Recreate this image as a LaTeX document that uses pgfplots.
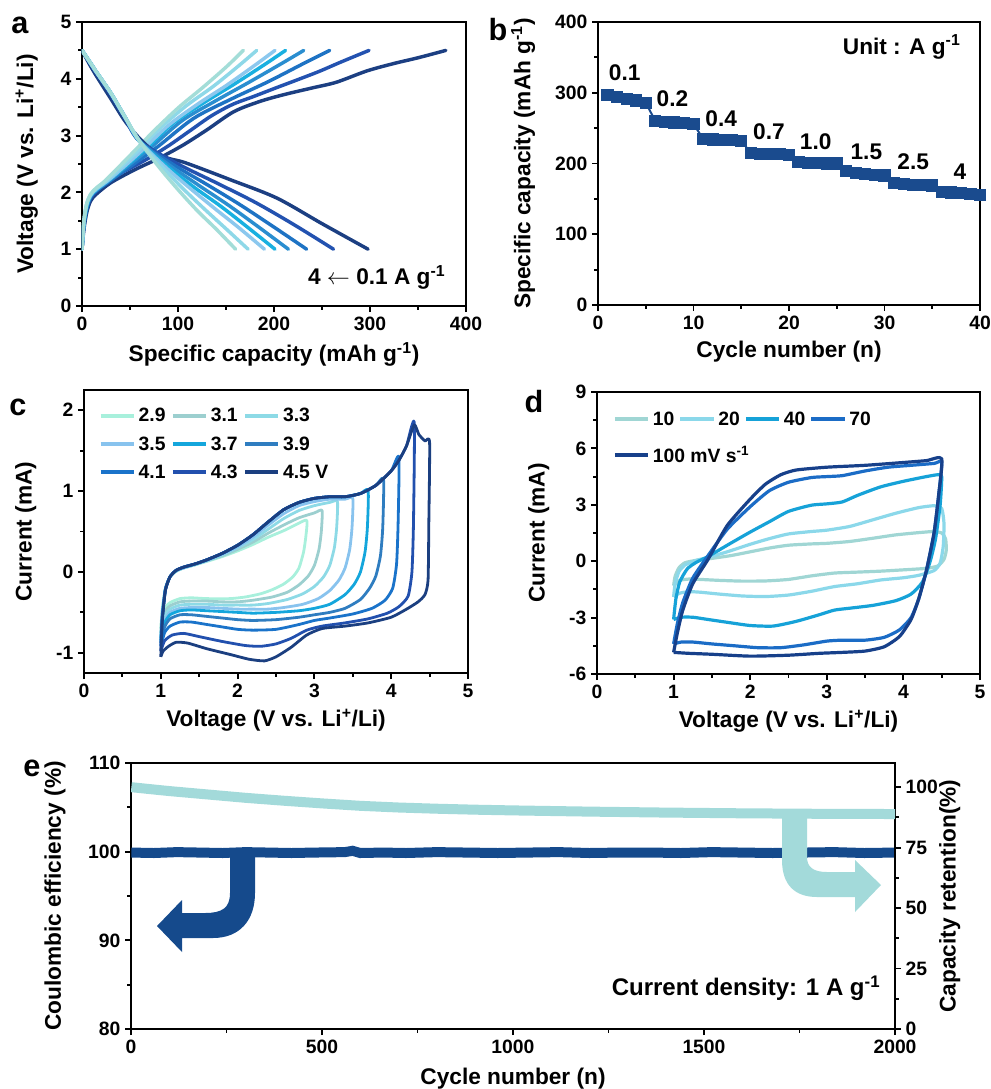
\documentclass[border=0pt]{standalone}
\usepackage{fontspec}
\setmainfont{Liberation Sans}
\usepackage{pgfplots}
\pgfplotsset{compat=1.18}
% panel a
\definecolor{aA}{HTML}{A3DDD8}
\definecolor{aB}{HTML}{8ED8E8}
\definecolor{aC}{HTML}{8CC8EE}
\definecolor{aD}{HTML}{19B0E0}
\definecolor{aE}{HTML}{2A8ED0}
\definecolor{aF}{HTML}{1E73C4}
\definecolor{aG}{HTML}{2352B0}
\definecolor{aH}{HTML}{1C3F82}
% panel c
\definecolor{cA}{HTML}{A8F0DC}
\definecolor{cB}{HTML}{9CCFCF}
\definecolor{cC}{HTML}{8DDAE6}
\definecolor{cD}{HTML}{88C3EE}
\definecolor{cE}{HTML}{14A6DC}
\definecolor{cF}{HTML}{2F7DC0}
\definecolor{cG}{HTML}{1A73CA}
\definecolor{cH}{HTML}{2250AE}
\definecolor{cI}{HTML}{1B3F80}
% panel d
\definecolor{dA}{HTML}{A0D6D4}
\definecolor{dB}{HTML}{8BD8EA}
\definecolor{dC}{HTML}{16A2D8}
\definecolor{dD}{HTML}{1B6CC6}
\definecolor{dE}{HTML}{17408A}
% b, e
\definecolor{bcol}{HTML}{1A4B8E}
\definecolor{ecol}{HTML}{154A8C}
\definecolor{tcol}{HTML}{A3DADA}

\pgfplotsset{
  common/.style={
    scale only axis,
    anchor=south west,
    axis line style={line width=1.8pt},
    every tick/.style={line width=1.4pt, black},
    tick align=outside,
    major tick length=4.5pt,
    minor tick length=2.8pt,
    xtick pos=left, ytick pos=left,
    tick label style={font=\bfseries\fontsize{14.5}{16}\selectfont},
    label style={font=\bfseries\fontsize{17}{18}\selectfont},
    xlabel style={yshift=-2pt},
    ylabel style={yshift=6pt},
    /pgf/number format/assume math mode=true,
    /pgf/number format/1000 sep={},
    legend style={draw=none, fill=none, font=\bfseries\fontsize{14.5}{15}\selectfont},
    legend cell align=left,
  },
  lgline/.style={legend image code/.code={\draw[##1,line width=3pt] (0pt,0pt) -- (25pt,0pt);}},
}

\begin{document}
\begin{tikzpicture}
\path[use as bounding box] (0,0) rectangle (743.25pt,-816.75pt);

%% ---------------- panel a ----------------
\begin{axis}[common, at={(61.5pt,-229.5pt)}, width=288pt, height=213pt,
  xmin=0, xmax=400, ymin=0, ymax=5,
  xtick={0,100,...,400}, ytick={0,1,...,5},
  minor x tick num=1, minor y tick num=1,
  xlabel={Specific capacity (mAh g\textsuperscript{-1})},
  ylabel={Voltage (V vs. Li\textsuperscript{+}/Li)},
  ylabel style={yshift=4pt},
  every axis plot/.append style={line width=2.6pt, smooth, tension=0.5, line cap=round},
]
% charge curves, darkest first
\addplot[aH] coordinates {(0,1.0)(2,1.35)(5,1.65)(9,1.85)(15,1.97)(30,2.17)(55,2.4)(80,2.6)(105,2.83)(130,3.1)(158,3.42)(185,3.6)(210,3.72)(240,3.84)(265,3.94)(297,4.14)(325,4.27)(350,4.37)(379,4.5)};
\addplot[aG] coordinates {(0,1.0)(2,1.4)(5,1.7)(9,1.9)(15,2.02)(27,2.22)(45,2.38)(67,2.58)(90,2.82)(112,3.08)(135,3.35)(157,3.55)(179,3.69)(202,3.84)(224,3.98)(247,4.13)(269,4.29)(299,4.5)};
\addplot[aF] coordinates {(0,1.0)(2,1.45)(5,1.75)(9,1.93)(15,2.03)(39,2.32)(77,2.78)(116,3.30)(155,3.64)(194,3.95)(232,4.28)(258,4.5)};
\addplot[aE] coordinates {(0,1.0)(2,1.45)(5,1.75)(9,1.93)(15,2.04)(35,2.30)(69,2.75)(104,3.26)(139,3.61)(173,3.93)(208,4.27)(231,4.5)};
\addplot[aD] coordinates {(0,1.0)(2,1.45)(5,1.75)(9,1.94)(15,2.05)(32,2.27)(64,2.73)(95,3.22)(127,3.58)(159,3.91)(191,4.26)(212,4.5)};
\addplot[aC] coordinates {(0,1.0)(2,1.5)(5,1.8)(9,1.95)(15,2.06)(30,2.25)(60,2.70)(90,3.18)(121,3.56)(151,3.89)(181,4.25)(201,4.5)};
\addplot[aB] coordinates {(0,1.0)(2,1.5)(5,1.8)(9,1.96)(15,2.07)(27,2.23)(55,2.68)(82,3.14)(109,3.53)(137,3.87)(164,4.24)(182,4.5)};
\addplot[aA] coordinates {(0,1.0)(2,1.5)(5,1.8)(9,1.97)(15,2.08)(25,2.22)(50,2.65)(76,3.1)(101,3.5)(126,3.85)(151,4.22)(168,4.5)};
% discharge curves
\addplot[aH] coordinates {(0,4.5)(8,4.25)(15,4.05)(30,3.65)(45,3.25)(60,2.95)(75,2.72)(90,2.6)(108,2.52)(155,2.22)(203,1.9)(250,1.45)(298,1.0)};
\addplot[aG] coordinates {(0,4.5)(8,4.28)(15,4.1)(30,3.72)(45,3.3)(60,2.9)(100,2.5)(141,2.16)(181,1.82)(222,1.42)(262,1.0)};
\addplot[aF] coordinates {(0,4.5)(8,4.3)(15,4.12)(30,3.75)(45,3.32)(60,2.9)(95,2.49)(130,2.14)(164,1.79)(199,1.40)(234,1.0)};
\addplot[aE] coordinates {(0,4.5)(8,4.3)(15,4.12)(30,3.75)(45,3.32)(60,2.9)(91,2.48)(122,2.12)(153,1.77)(184,1.39)(215,1.0)};
\addplot[aD] coordinates {(0,4.5)(8,4.3)(15,4.12)(30,3.75)(45,3.32)(60,2.9)(88,2.47)(116,2.10)(145,1.75)(173,1.38)(201,1.0)};
\addplot[aC] coordinates {(0,4.5)(8,4.3)(15,4.12)(30,3.75)(45,3.32)(60,2.9)(86,2.46)(112,2.08)(138,1.72)(164,1.37)(190,1.0)};
\addplot[aB] coordinates {(0,4.5)(8,4.3)(15,4.12)(30,3.75)(45,3.32)(60,2.9)(83,2.46)(105,2.07)(128,1.70)(150,1.36)(173,1.0)};
\addplot[aA] coordinates {(0,4.5)(8,4.3)(15,4.12)(30,3.75)(45,3.32)(60,2.9)(80,2.45)(100,2.05)(120,1.68)(140,1.35)(160,1.0)};
\node[font=\bfseries\fontsize{17}{18}\selectfont] at (axis cs:307,0.5) {4 $\leftarrow$ 0.1 A g\textsuperscript{-1}};
\end{axis}

%% ---------------- panel b ----------------
\begin{axis}[common, at={(448.5pt,-228.75pt)}, width=286.5pt, height=212.25pt,
  xmin=0, xmax=40, ymin=0, ymax=400,
  xtick={0,10,...,40}, ytick={0,100,...,400},
  minor x tick num=1, minor y tick num=1,
  xlabel={Cycle number (n)},
  ylabel={Specific capacity (mAh g\textsuperscript{-1})},
  ylabel style={yshift=2pt},
]
\addplot[bcol, line width=1.5pt, mark=square*, mark size=3.8pt] coordinates {
(1,297)(2,294)(3,291)(4,289)(5,286)
(6,260)(7,259)(8,258)(9,257)(10,256)
(11,235)(12,234)(13,233)(14,233)(15,232)
(16,215)(17,214)(18,213)(19,213)(20,212)
(21,202)(22,201)(23,201)(24,200)(25,200)
(26,190)(27,187)(28,185)(29,184)(30,183)
(31,173)(32,171)(33,170)(34,170)(35,169)
(36,160)(37,159)(38,158)(39,157)(40,156)};
\begin{scope}[font=\bfseries\fontsize{17}{18}\selectfont]
\node at (axis cs:2.8,329) {0.1};
\node at (axis cs:7.8,292) {0.2};
\node at (axis cs:12.9,263) {0.4};
\node at (axis cs:17.9,245) {0.7};
\node at (axis cs:22.8,231) {1.0};
\node at (axis cs:28.1,216) {1.5};
\node at (axis cs:33,202) {2.5};
\node at (axis cs:37.9,188) {4};
\node at (axis cs:31.8,365) {Unit : A g\textsuperscript{-1}};
\end{scope}
\end{axis}

%% ---------------- panel c ----------------
\begin{axis}[common, lgline, at={(63pt,-504.75pt)}, width=288pt, height=212.25pt,
  xmin=0, xmax=5, ymin=-1.25, ymax=2.25,
  xtick={0,1,...,5}, ytick={-1,0,1,2},
  minor x tick num=1, minor y tick num=1,
  xlabel={Voltage (V vs. Li\textsuperscript{+}/Li)},
  ylabel={Current (mA)},
  ylabel style={yshift=2pt},
  every axis plot/.append style={line width=2.1pt, smooth, tension=0.35, line join=round},
  legend columns=3,
  legend style={at={(0.027,0.955)}, anchor=north west, row sep=5.5pt,
    /tikz/every even column/.append style={column sep=2pt}},
]
\addplot[cA] coordinates {(1.0,-0.7)(1.02,-0.45)(1.06,-0.2)(1.12,-0.06)(1.2,0.01)(1.3,0.05)(1.45,0.09)(1.6,0.13)(1.8,0.19)(2.0,0.26)(2.2,0.34)(2.4,0.43)(2.6,0.51)(2.75,0.58)(2.9,0.64)
(2.89,0.45)(2.86,0.25)(2.8,0.05)(2.72,-0.06)(2.6,-0.15)(2.45,-0.22)(2.3,-0.27)(2.1,-0.31)(1.9,-0.33)(1.6,-0.33)(1.4,-0.32)(1.25,-0.33)(1.12,-0.38)(1.05,-0.46)(1.0,-0.7)};
\addlegendentry{2.9}
\addplot[cB] coordinates {(1.0,-0.75)(1.02,-0.48)(1.06,-0.21)(1.12,-0.06)(1.2,0.01)(1.3,0.05)(1.45,0.09)(1.6,0.14)(1.8,0.2)(2.0,0.28)(2.2,0.37)(2.4,0.48)(2.6,0.58)(2.8,0.67)(3.0,0.73)(3.1,0.76)
(3.09,0.5)(3.06,0.28)(3.0,0.08)(2.92,-0.05)(2.8,-0.16)(2.65,-0.25)(2.45,-0.31)(2.2,-0.35)(2.0,-0.37)(1.8,-0.37)(1.6,-0.36)(1.4,-0.36)(1.25,-0.37)(1.12,-0.42)(1.05,-0.5)(1.0,-0.75)};
\addlegendentry{3.1}
\addplot[cC] coordinates {(1.0,-0.8)(1.02,-0.5)(1.06,-0.21)(1.12,-0.06)(1.2,0.01)(1.3,0.05)(1.45,0.09)(1.6,0.14)(1.8,0.21)(2.0,0.3)(2.2,0.4)(2.4,0.53)(2.6,0.66)(2.8,0.76)(3.0,0.82)(3.2,0.86)(3.3,0.87)
(3.29,0.55)(3.26,0.3)(3.2,0.08)(3.12,-0.06)(3.0,-0.18)(2.85,-0.27)(2.65,-0.34)(2.4,-0.39)(2.2,-0.41)(2.0,-0.41)(1.8,-0.41)(1.6,-0.4)(1.4,-0.4)(1.25,-0.41)(1.12,-0.46)(1.05,-0.55)(1.0,-0.8)};
\addlegendentry{3.3}
\addplot[cD] coordinates {(1.0,-0.82)(1.02,-0.52)(1.06,-0.21)(1.12,-0.06)(1.2,0.02)(1.3,0.05)(1.45,0.1)(1.6,0.14)(1.8,0.22)(2.0,0.31)(2.2,0.43)(2.4,0.58)(2.6,0.72)(2.8,0.82)(3.0,0.87)(3.2,0.9)(3.4,0.9)(3.5,0.91)
(3.49,0.55)(3.46,0.28)(3.4,0.05)(3.32,-0.1)(3.2,-0.23)(3.05,-0.33)(2.85,-0.4)(2.6,-0.44)(2.4,-0.46)(2.2,-0.46)(2.0,-0.46)(1.8,-0.45)(1.6,-0.44)(1.4,-0.44)(1.25,-0.45)(1.12,-0.5)(1.05,-0.6)(1.0,-0.82)};
\addlegendentry{3.5}
\addplot[cE] coordinates {(1.0,-0.85)(1.02,-0.55)(1.06,-0.22)(1.12,-0.06)(1.2,0.02)(1.3,0.06)(1.45,0.1)(1.6,0.15)(1.8,0.23)(2.0,0.33)(2.2,0.46)(2.4,0.62)(2.6,0.77)(2.8,0.86)(3.0,0.91)(3.2,0.93)(3.4,0.93)(3.6,0.97)(3.7,1.01)
(3.69,0.55)(3.66,0.25)(3.6,0.0)(3.52,-0.15)(3.4,-0.28)(3.2,-0.4)(3.0,-0.45)(2.8,-0.48)(2.5,-0.5)(2.2,-0.51)(2.0,-0.5)(1.8,-0.49)(1.6,-0.48)(1.4,-0.47)(1.25,-0.48)(1.12,-0.53)(1.05,-0.63)(1.0,-0.85)};
\addlegendentry{3.7}
\addplot[cF] coordinates {(1.0,-0.88)(1.02,-0.55)(1.06,-0.22)(1.12,-0.06)(1.2,0.02)(1.3,0.06)(1.45,0.1)(1.6,0.15)(1.8,0.23)(2.0,0.33)(2.2,0.46)(2.4,0.62)(2.6,0.77)(2.8,0.86)(3.0,0.91)(3.2,0.93)(3.4,0.93)(3.6,0.97)(3.8,1.07)(3.9,1.15)
(3.89,0.55)(3.86,0.2)(3.8,-0.05)(3.72,-0.2)(3.6,-0.34)(3.4,-0.45)(3.2,-0.5)(3.0,-0.53)(2.8,-0.56)(2.5,-0.59)(2.2,-0.6)(2.0,-0.59)(1.8,-0.57)(1.6,-0.55)(1.4,-0.53)(1.25,-0.53)(1.12,-0.58)(1.05,-0.68)(1.0,-0.88)};
\addlegendentry{3.9}
\addplot[cG] coordinates {(1.0,-0.92)(1.02,-0.56)(1.06,-0.22)(1.12,-0.06)(1.2,0.02)(1.3,0.06)(1.45,0.1)(1.6,0.15)(1.8,0.23)(2.0,0.33)(2.2,0.46)(2.4,0.62)(2.6,0.77)(2.8,0.86)(3.0,0.91)(3.2,0.93)(3.4,0.93)(3.6,0.97)(3.8,1.07)(4.0,1.25)(4.1,1.42)
(4.09,0.6)(4.07,0.1)(4.02,-0.2)(3.92,-0.35)(3.75,-0.45)(3.5,-0.52)(3.2,-0.57)(3.0,-0.6)(2.8,-0.65)(2.5,-0.71)(2.2,-0.72)(2.0,-0.71)(1.8,-0.68)(1.6,-0.65)(1.4,-0.62)(1.25,-0.62)(1.12,-0.67)(1.05,-0.75)(1.0,-0.92)};
\addlegendentry{4.1}
\addplot[cH] coordinates {(1.0,-0.98)(1.02,-0.57)(1.06,-0.22)(1.12,-0.06)(1.2,0.02)(1.3,0.06)(1.45,0.1)(1.6,0.15)(1.8,0.23)(2.0,0.33)(2.2,0.46)(2.4,0.62)(2.6,0.77)(2.8,0.86)(3.0,0.91)(3.2,0.93)(3.4,0.93)(3.6,0.97)(3.8,1.07)(4.0,1.25)(4.1,1.38)(4.2,1.56)(4.3,1.85)
(4.29,0.6)(4.27,0.0)(4.22,-0.3)(4.1,-0.43)(3.95,-0.51)(3.7,-0.58)(3.4,-0.63)(3.1,-0.67)(2.9,-0.72)(2.7,-0.82)(2.5,-0.89)(2.3,-0.92)(2.1,-0.91)(1.8,-0.86)(1.5,-0.8)(1.3,-0.76)(1.15,-0.78)(1.05,-0.85)(1.0,-0.98)};
\addlegendentry{4.3}
\addplot[cI] coordinates {(1.0,-1.05)(1.02,-0.6)(1.06,-0.23)(1.12,-0.06)(1.2,0.02)(1.3,0.06)(1.45,0.1)(1.6,0.15)(1.8,0.23)(2.0,0.33)(2.2,0.46)(2.4,0.62)(2.6,0.77)(2.8,0.86)(3.0,0.91)(3.2,0.93)(3.4,0.93)(3.6,0.97)(3.8,1.07)(4.0,1.25)(4.1,1.38)(4.2,1.56)(4.3,1.82)(4.36,1.7)(4.44,1.62)(4.5,1.6)
(4.49,0.6)(4.48,-0.1)(4.44,-0.28)(4.35,-0.37)(4.2,-0.46)(4.0,-0.56)(3.7,-0.63)(3.4,-0.67)(3.1,-0.7)(2.9,-0.78)(2.7,-0.93)(2.5,-1.05)(2.35,-1.1)(2.15,-1.08)(1.9,-1.02)(1.6,-0.95)(1.35,-0.88)(1.2,-0.87)(1.1,-0.92)(1.03,-0.98)(1.0,-1.05)};
\addlegendentry{4.5 V}
\end{axis}

%% ---------------- panel d ----------------
\begin{axis}[common, lgline, at={(447.75pt,-505.5pt)}, width=287.25pt, height=211.5pt,
  xmin=0, xmax=5, ymin=-6, ymax=9,
  xtick={0,1,...,5}, ytick={-6,-3,...,9},
  minor x tick num=1, minor y tick num=1,
  xlabel={Voltage (V vs. Li\textsuperscript{+}/Li)},
  ylabel={Current (mA)},
  ylabel style={yshift=2pt},
  every axis plot/.append style={line width=2.4pt, smooth, tension=0.35, line join=round},
  legend columns=4,
  legend style={at={(0.03,0.95)}, anchor=north west, row sep=10pt,
    /tikz/every even column/.append style={column sep=1pt}},
]
\addplot[dA] coordinates {(1.0,-1.3)(1.02,-0.8)(1.07,-0.35)(1.15,-0.08)(1.3,0.05)(1.5,0.15)(1.75,0.3)(2.0,0.5)(2.25,0.7)(2.5,0.85)(2.8,0.92)(3.0,0.95)(3.3,1.05)(3.6,1.22)(3.9,1.4)(4.2,1.52)(4.4,1.58)(4.5,1.5)(4.55,1.2)(4.56,0.6)(4.53,0.1)(4.45,-0.25)
(4.3,-0.38)(4.0,-0.46)(3.7,-0.53)(3.4,-0.58)(3.1,-0.63)(2.8,-0.78)(2.5,-0.97)(2.2,-1.05)(1.9,-1.06)(1.6,-1.02)(1.35,-0.97)(1.2,-0.95)(1.08,-1.02)(1.0,-1.3)};
\addlegendentry{10}
\addplot[dB] coordinates {(1.0,-1.9)(1.02,-1.2)(1.07,-0.55)(1.15,-0.2)(1.3,0.05)(1.45,0.2)(1.7,0.5)(2.0,0.9)(2.25,1.2)(2.5,1.45)(2.8,1.58)(3.0,1.65)(3.3,1.85)(3.6,2.2)(3.9,2.55)(4.2,2.85)(4.4,2.95)(4.5,2.8)(4.53,2.0)(4.52,0.8)(4.48,-0.1)(4.4,-0.5)
(4.2,-0.75)(4.0,-0.88)(3.7,-1.0)(3.4,-1.2)(3.1,-1.35)(2.8,-1.6)(2.5,-1.8)(2.2,-1.88)(1.9,-1.85)(1.6,-1.75)(1.35,-1.65)(1.2,-1.62)(1.08,-1.7)(1.0,-1.9)};
\addlegendentry{20}
\addplot[dC] coordinates {(1.0,-3.1)(1.03,-2.0)(1.08,-1.1)(1.18,-0.4)(1.3,-0.05)(1.45,0.25)(1.7,0.85)(2.0,1.55)(2.25,2.1)(2.5,2.65)(2.8,2.98)(3.0,3.05)(3.2,3.15)(3.4,3.5)(3.7,3.95)(4.0,4.25)(4.3,4.5)(4.45,4.6)(4.5,4.5)(4.48,3.0)(4.42,1.2)(4.35,0.0)(4.25,-1.1)
(4.1,-1.75)(3.9,-2.1)(3.6,-2.35)(3.3,-2.5)(3.1,-2.6)(2.9,-2.85)(2.6,-3.2)(2.3,-3.45)(2.0,-3.42)(1.7,-3.25)(1.45,-3.1)(1.25,-2.98)(1.1,-2.98)(1.0,-3.1)};
\addlegendentry{40}
\addplot[dD] coordinates {(1.0,-4.4)(1.05,-3.3)(1.12,-2.2)(1.25,-0.9)(1.45,0.3)(1.7,1.7)(2.0,2.9)(2.25,3.75)(2.5,4.2)(2.8,4.45)(3.0,4.5)(3.2,4.55)(3.5,4.8)(3.8,5.0)(4.1,5.1)(4.4,5.2)(4.5,5.25)(4.46,3.5)(4.4,1.5)(4.3,-0.5)(4.2,-2.0)(4.1,-3.0)
(3.95,-3.65)(3.75,-4.05)(3.5,-4.2)(3.2,-4.2)(3.0,-4.25)(2.7,-4.45)(2.4,-4.6)(2.1,-4.6)(1.8,-4.5)(1.5,-4.4)(1.25,-4.3)(1.1,-4.3)(1.0,-4.4)};
\addlegendentry{70}
\addplot[dE] coordinates {(1.0,-4.85)(1.05,-3.8)(1.12,-2.6)(1.25,-1.2)(1.45,0.1)(1.7,1.9)(2.0,3.3)(2.2,4.1)(2.4,4.6)(2.6,4.85)(3.0,5.0)(3.5,5.1)(4.0,5.25)(4.3,5.35)(4.5,5.45)(4.46,3.5)(4.4,1.5)(4.3,-0.5)(4.2,-2.0)(4.1,-3.1)
(3.95,-4.0)(3.75,-4.55)(3.5,-4.78)(3.2,-4.85)(2.9,-4.9)(2.5,-5.0)(2.0,-5.05)(1.5,-4.95)(1.2,-4.9)(1.0,-4.85)};
\addlegendentry{\rlap{100 mV s\textsuperscript{-1}}}
\end{axis}

%% ---------------- panel e ----------------
\begin{axis}[common, at={(98.25pt,-771.75pt)}, width=573pt, height=199.5pt,
  xmin=0, xmax=2000, ymin=80, ymax=110,
  xtick={0,500,...,2000}, ytick={80,90,100,110},
  minor x tick num=1, minor y tick num=1,
  xlabel={Cycle number (n)},
  xlabel style={yshift=-2pt},
  ylabel={Coulombic efficiency (\%)},
  ylabel style={yshift=4pt},
]
\addplot[ecol, line width=7.5pt] coordinates {(1,99.9)(60,99.85)(120,99.95)(180,99.9)(240,99.85)(300,99.95)(360,99.9)(420,99.85)(480,99.9)(560,99.95)(580,100.1)(600,99.85)(660,99.9)(720,99.85)(800,99.95)(880,99.9)(960,99.85)(1040,99.9)(1120,99.95)(1200,99.85)(1280,99.9)(1360,99.9)(1440,99.85)(1520,99.95)(1600,99.9)(1680,99.85)(1760,99.9)(1840,99.95)(1920,99.85)(2000,99.9)};
\node[font=\bfseries\fontsize{18}{19}\selectfont] at (axis cs:1610,84.6) {Current density: 1 A g\textsuperscript{-1}};
\end{axis}
\begin{axis}[common, at={(98.25pt,-771.75pt)}, width=573pt, height=199.5pt,
  xmin=0, xmax=2000, ymin=0, ymax=110,
  axis x line=none, axis y line*=right, ytick pos=right,
  ytick={0,25,50,75,100}, minor ytick={12.5,37.5,62.5,87.5},
  ylabel={Capacity retention(\%)},
  ylabel style={yshift=0pt},
]
\addplot[tcol, line width=7.5pt] coordinates {(1,100)(50,99.2)(100,98.4)(200,97)(300,95.6)(400,94.4)(500,93.3)(600,92.3)(700,91.6)(800,91.1)(900,90.7)(1000,90.4)(1200,89.9)(1400,89.5)(1600,89.2)(1800,89.0)(2000,88.9)};
\end{axis}

%% arrows (annotations)
\begin{scope}[x=0.75pt, y=-0.75pt]
\fill[ecol] (230,855) -- (230,893) .. controls (230,908) and (222,913) .. (205,913) -- (182,913) -- (182,900) -- (157,926) -- (182,952) -- (182,938) -- (213,938) .. controls (240,938) and (255,920) .. (255,893) -- (255,855) -- cycle;
\fill[tcol] (782,813) -- (782,860) .. controls (782,885) and (795,897) .. (817,897) -- (855,897) -- (855,912) -- (881,885) -- (855,860) -- (855,872) -- (827,872) .. controls (812,872) and (807,866) .. (807,857) -- (807,813) -- cycle;
\end{scope}

%% panel letters
\begin{scope}[font=\bfseries\fontsize{23}{23}\selectfont]
\node[anchor=base] at (15pt,-24.75pt) {a};
\node[anchor=base] at (373.5pt,-30pt) {b};
\node[anchor=base] at (13.5pt,-311.25pt) {c};
\node[anchor=base] at (400.5pt,-309pt) {d};
\node[anchor=base] at (24pt,-582pt) {e};
\end{scope}
\end{tikzpicture}
\end{document}
